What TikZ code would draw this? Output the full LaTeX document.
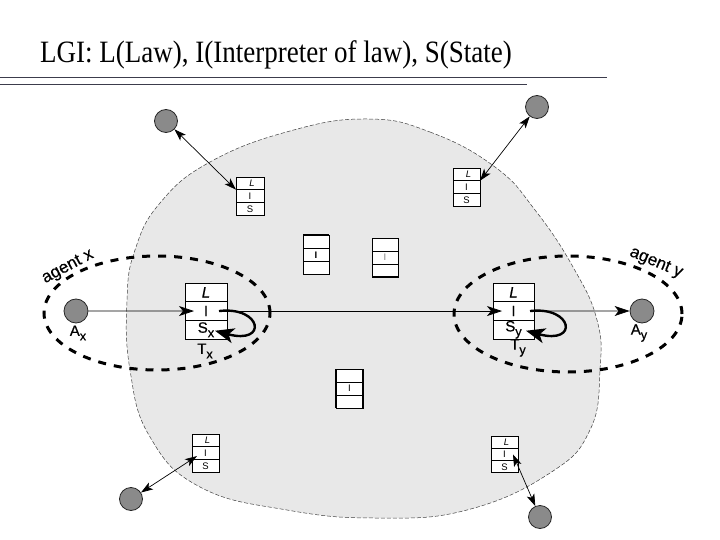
\documentclass[tikz,border=0pt]{standalone}
\usepackage{fontspec}
\setmainfont{Liberation Sans}
\newfontfamily\titlefont{Liberation Serif}
\newfontfamily\semifont{Liberation Sans}[FakeBold=0.5]
\usetikzlibrary{arrows.meta}
\newcommand\lsub[1]{\raisebox{-0.3em}{\scalebox{0.85}{#1}}}
\newcommand\mktable[6]{%
  % #1 name, #2 center x, #3 top y (px, down), #4 row height, #5 style, #6 width
  \node[#5, minimum width=#6pt, minimum height=#4pt] (#1L) at (#2, {-(#3)-0.5*(#4)}) {};
  \node[#5, minimum width=#6pt, minimum height=#4pt] (#1I) at (#2, {-(#3)-1.5*(#4)}) {};
  \node[#5, minimum width=#6pt, minimum height=#4pt] (#1S) at (#2, {-(#3)-2.5*(#4)}) {};
}
\definecolor{blobgray}{HTML}{E8E8E8}
\definecolor{dotgray}{HTML}{8A8A8A}
\definecolor{rulecol}{HTML}{3C3C4C}
\begin{document}
\begin{tikzpicture}[x=1pt,y=1pt,
  cellbox/.style={draw=black, line width=0.9pt, fill=white, inner sep=0pt, outer sep=0pt},
  smcell/.style={cellbox},
  bigcell/.style={cellbox},
  smtext/.style={font=\fontsize{9.5}{9.5}\selectfont, inner sep=0pt},
  agentdot/.style={circle, draw=black!85, line width=0.8pt, fill=dotgray, minimum size=23pt, inner sep=0pt},
  thinlink/.style={line width=0.7pt, {Stealth[length=12pt,width=8pt,inset=3pt]}-{Stealth[length=12pt,width=8pt,inset=3pt]}},
  hlink/.style={line width=0.75pt, -{Stealth[length=15pt,width=10pt,inset=4pt]}},
  selfloop/.style={line width=2.4pt, -{Stealth[length=19pt,width=15pt,inset=5pt]}},
  agentring/.style={line width=3pt, dash pattern=on 8pt off 8pt},
  lbl/.style={font=\semifont\fontsize{15}{15}\selectfont, inner sep=0pt},
  agentlbl/.style={font=\semifont\fontsize{17}{17}\selectfont, inner sep=0pt},
  rulestyle/.style={draw=rulecol, line width=0.9pt}
]
\useasboundingbox (0,0) rectangle (720,-540);

% title and rules
\node[anchor=base west, inner sep=0pt, font=\titlefont\fontsize{27}{30}\selectfont] (title) at (40,-63)
  {\scalebox{1}[1.15]{LGI: L(Law), I(Interpreter of law), S(State)}};
\draw[rulestyle] (0,-77.5) -- (607,-77.5);
\draw[rulestyle] (0,-84) -- (527,-84);

% law-governed region
\fill[blobgray] plot[smooth cycle, tension=0.75] coordinates {
  (367,-119) (430,-132) (495,-167) (535,-210) (573,-267) (597,-320) (600,-370)
  (590,-430) (550,-473) (467,-510) (377,-518) (287,-510) (200,-487) (150,-437)
  (130,-370) (127,-300) (135,-250) (160,-203) (210,-162) (290,-131)};
\draw[black!75, line width=0.5pt, dash pattern=on 4pt off 2pt] plot[smooth cycle, tension=0.75] coordinates {
  (367,-119) (430,-132) (495,-167) (535,-210) (573,-267) (597,-320) (600,-370)
  (590,-430) (550,-473) (467,-510) (377,-518) (287,-510) (200,-487) (150,-437)
  (130,-370) (127,-300) (135,-250) (160,-203) (210,-162) (290,-131)};

% agent rings
\draw[agentring] (157,-313) ellipse[x radius=113, y radius=57];
\draw[agentring] (568,-314) ellipse[x radius=114, y radius=58];
\node[agentlbl, rotate=28] (agx) at (68,-267) {agent x};
\node[agentlbl, rotate=-23] (agy) at (656,-263) {agent y};

% tables
\mktable{tl}{250}{177}{12.7}{smcell}{28}
\mktable{tr}{466.5}{168}{12.7}{smcell}{27}
\mktable{bl}{205.5}{434}{12.7}{smcell}{27}
\mktable{br}{504.5}{436}{12.3}{smcell}{27}
\mktable{Tx}{206}{283}{18.7}{bigcell}{42}
\mktable{Ty}{513.5}{283}{18.7}{bigcell}{41}
\mktable{ma}{316}{235}{13.3}{smcell}{26}
\mktable{mb}{385}{238}{13}{smcell}{26}
\mktable{mc}{349.5}{369}{13}{smcell}{27}

\foreach \t in {tl,tr,bl,br}{
  \node[smtext, font=\fontsize{9.5}{9.5}\selectfont\itshape] at ([xshift=2pt]\t L) {L};
  \node[smtext] at (\t I) {I};
  \node[smtext] at (\t S) {S};
}
\node[smtext, font=\fontsize{9.5}{9.5}\selectfont\bfseries] at (maI) {I};
\node[smtext, text=black!50] at (mbI) {I};
\node[smtext] at (mcI) {I};
\draw[line width=2.2pt] (maL.north west) -- (maL.north east);
\draw[line width=2.2pt] (mbS.south west) -- (mbS.south east);
\draw[line width=2pt] (mcL.north west) -- (mcS.south west);
\draw[line width=2pt] (mcL.north east) -- (mcS.south east);

\node[lbl, font=\semifont\fontsize{15}{15}\selectfont\itshape] at (TxL) {L};
\node[lbl] at (TxI) {I};
\node[lbl] at (TxS) {S\lsub{x}};
\node[lbl, font=\semifont\fontsize{15}{15}\selectfont\itshape] at (TyL) {L};
\node[lbl] at (TyI) {I};
\node[lbl] at (TyS) {S\lsub{y}};
\node[lbl] (Txlab) at (205,-351) {T\lsub{x}};
\node[lbl] (Tylab) at (518,-348) {T\lsub{y}};

% agents
\node[agentdot] (C1) at (166,-121) {};
\node[agentdot] (C2) at (537,-107) {};
\node[agentdot] (C3) at (131,-499) {};
\node[agentdot] (C4) at (540,-517) {};
\node[agentdot, minimum size=24pt] (Ax) at (76,-311) {};
\node[agentdot, minimum size=24pt] (Ay) at (642,-311) {};
\node[lbl] (Axlab) at (78,-333) {A\lsub{x}};
\node[lbl] (Aylab) at (639,-333) {A\lsub{y}};

% connectors
\draw[thinlink] (C1) -- (tlI.north west);
\draw[thinlink] (C2) -- (trI.north east);
\draw[thinlink] (C3) -- ([xshift=5pt,yshift=-3pt]blI.west);
\draw[thinlink] (C4) -- ([xshift=-5pt]brI.east);
\draw[hlink] (Ax) -- ([xshift=9pt]TxI.west);
\draw[hlink] (TxI.east) -- ([xshift=9pt]TyI.west);
\draw[hlink] (TyI.east) -- (Ay);
\draw[selfloop] ([xshift=-8pt]TxI.east) .. controls (262,-306) and (268,-345) .. ([xshift=-12pt,yshift=-1pt]TxS.east);
\draw[selfloop] ([xshift=-4pt]TyI.east) .. controls (573,-306) and (579,-345) .. ([xshift=-8pt,yshift=-1pt]TyS.east);
\end{tikzpicture}
\end{document}
